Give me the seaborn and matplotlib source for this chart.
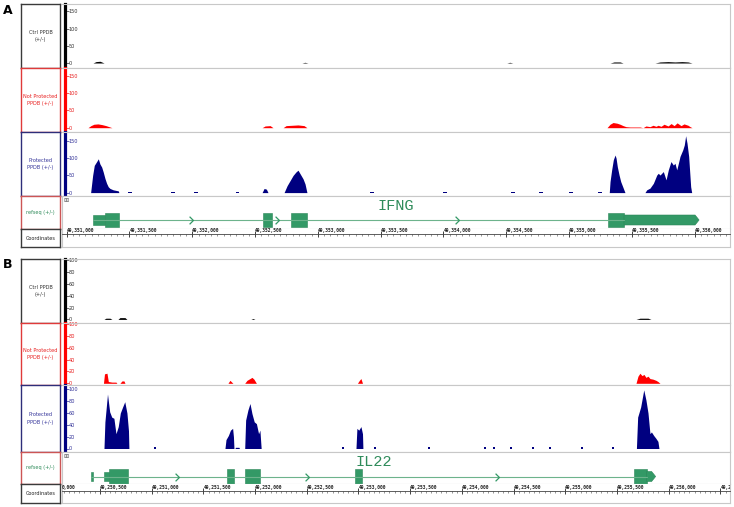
import matplotlib
matplotlib.use("Agg")
import matplotlib.pyplot as plt
from matplotlib.ticker import MultipleLocator, FuncFormatter
from matplotlib.patches import Rectangle, Polygon
from matplotlib.path import Path
import seaborn as sns

W, H = 734, 507

# ---------------- panel A : IFNG locus ----------------
a_xlim = (49350963, 49356281)
a_ticks = [0, 50, 100, 150]

a_ctrl_pos = [49351210, 49351234, 49351266, 49351298,
              49352873, 49352897, 49352921,
              49354504, 49354528, 49354552,
              49355326, 49355358, 49355406, 49355430,
              49355684, 49355724, 49355788, 49355843, 49355899, 49355947, 49355979]
a_ctrl_val = [0, 4, 5, 0, 0, 2, 0, 0, 2, 0, 0, 3, 3, 0, 0, 3, 4, 3, 4, 3, 0]

a_notp_pos = [49351170, 49351193, 49351217, 49351249, 49351281, 49351313, 49351345, 49351361,
              49352556, 49352580, 49352620, 49352643,
              49352723, 49352747, 49352795, 49352842, 49352890, 49352913,
              49355302, 49355326, 49355350, 49355382, 49355406, 49355430, 49355453, 49355485,
              49355564, 49355588,
              49355612, 49355644, 49355668, 49355692, 49355708, 49355732, 49355756, 49355788,
              49355812, 49355836, 49355860, 49355891, 49355915, 49355947, 49355963, 49355979]
a_notp_val = [0, 6, 10, 11, 9, 6, 2, 0,
              0, 5, 6, 0,
              0, 6, 7, 8, 6, 0,
              0, 10, 15, 13, 10, 6, 3, 2, 2, 0,
              5, 3, 7, 4, 7, 4, 10, 5, 12, 6, 14, 6, 11, 7, 3, 0]

a_prot_pos = [49351191, 49351207, 49351220, 49351239, 49351252, 49351265, 49351279, 49351291,
              49351305, 49351318, 49351331, 49351345, 49351371, 49351411, 49351416,
              49352556, 49352572, 49352590, 49352603,
              49352731, 49352755, 49352779, 49352803, 49352826, 49352842, 49352858, 49352882,
              49352898, 49352913,
              49355320, 49355326, 49355339, 49355352, 49355366, 49355374, 49355384, 49355398,
              49355411, 49355427, 49355445,
              49355604, 49355618, 49355644, 49355671, 49355698, 49355710, 49355724, 49355737,
              49355750, 49355772, 49355790, 49355811, 49355830, 49355843, 49355857, 49355870,
              49355883, 49355905, 49355917, 49355928, 49355939, 49355952, 49355968, 49355976]
a_prot_val = [0, 50, 79, 90, 98, 83, 74, 60, 41, 27, 17, 12, 8, 5, 0,
              0, 12, 10, 0,
              0, 20, 35, 50, 60, 65, 55, 40, 25, 0,
              0, 32, 66, 95, 109, 100, 75, 51, 32, 17, 0,
              0, 8, 13, 27, 51, 56, 51, 56, 61, 37, 66, 90, 80, 85, 66, 85,
              105, 124, 138, 165, 143, 105, 17, 0]
a_prot_dots = [49351504, 49351847, 49352030, 49352357, 49353431, 49354012,
               49354553, 49354776, 49355015, 49355246]
a_prot_dot_val = [3, 3, 2, 3, 2, 2, 3, 2, 3, 3]

a_gene = "IFNG"
a_utr5 = [(49351207, 49351305)]
a_cds = [(49351305, 49351416), (49352563, 49352634), (49352788, 49352913), (49355310, 49355437)]
a_utr3 = (49355437, 49356035)
a_chevrons = [49351987, 49352674, 49354105]

# ---------------- panel B : IL22 locus ----------------
b_xlim = (49250133, 49256593)
b_ticks = [0, 20, 40, 60, 80, 100]

b_ctrl_pos = [49250539, 49250558, 49250597, 49250616, 49250674, 49250693, 49250742, 49250761,
              49251960, 49251980, 49251999, 49255684, 49255722, 49255800, 49255829]
b_ctrl_val = [0, 2, 2, 0, 0, 3, 3, 0, 0, 1.5, 0, 0, 2, 2, 0]

b_notp_pos = [49250534, 49250544, 49250568, 49250581, 49250616, 49250655, 49250664,
              49250693, 49250713, 49250732, 49250742,
              49251738, 49251757, 49251786,
              49251900, 49251922, 49251951, 49251970, 49251989, 49252013,
              49252990, 49253009, 49253024, 49253039,
              49255684, 49255703, 49255722, 49255742, 49255761, 49255780, 49255800, 49255819,
              49255848, 49255877, 49255896, 49255916]
b_notp_val = [0, 16, 17, 3, 2, 2, 0,
              0, 4, 4, 0,
              0, 5, 0,
              0, 5, 8, 10, 7, 0,
              0, 5, 8, 0,
              0, 12, 17, 13, 15, 10, 12, 8, 7, 5, 3, 0]

b_prot_pos = [49250539, 49250548, 49250573, 49250594, 49250614, 49250635, 49250655, 49250677,
              49250697, 49250719, 49250740, 49250761, 49250776, 49250780,
              49251709, 49251719, 49251742, 49251762, 49251783, 49251791, 49251796,
              49251806, 49251810, 49251844, 49251849,
              49251900, 49251909, 49251931, 49251951, 49251970, 49251992, 49252013, 49252034,
              49252047, 49252059,
              49252976, 49252985, 49253003, 49253024, 49253039, 49253043,
              49255688, 49255700, 49255729, 49255759, 49255780, 49255800, 49255819, 49255833,
              49255855, 49255877, 49255896, 49255906]
b_prot_val = [0, 45, 92, 62, 53, 51, 25, 37, 60, 70, 79, 60, 30, 0,
              0, 15, 22, 31, 34, 20, 0, 0, 2, 2, 0,
              0, 48, 65, 76, 59, 45, 42, 25, 31, 0,
              0, 34, 31, 37, 25, 0,
              0, 53, 70, 99, 82, 60, 25, 28, 22, 17, 12, 0]
b_prot_dots = [49251032, 49252850, 49253159, 49253682, 49254223, 49254310, 49254475,
               49254688, 49254852, 49255162, 49255461]
b_prot_dot_val = [2, 2, 2, 2, 2, 2, 2, 2, 2, 2, 2]

b_gene = "IL22"
b_utr5 = [(49250413, 49250432), (49250542, 49250590)]
b_cds = [(49250590, 49250768), (49251731, 49251796), (49251902, 49252047),
         (49252966, 49253031), (49255667, 49255787)]
b_utr3 = (49255787, 49255874)
b_chevrons = [49251242, 49252499, 49254336]

track_names = ["Ctrl PPDB\n(+/-)", "Not Protected\nPPDB (+/-)", "Protected\nPPDB (+/-)",
               "refseq (+/-)", "Coordinates"]

# ---------------- styling ----------------
sns.set_theme(style="white")
plt.rcParams["font.family"] = ["DejaVu Sans"]

fill_cols = ["#000000", "#ff0000", "#000080"]
text_cols = ["#333333", "#e82020", "#333399", "#2e8b5a", "#222222"]
box_edges = ["#3a3a3a", "#e03a3a", "#2e2e7a", "#cc5555", "#3a3a3a"]
grid_gray = "#c8c8c8"
exon_green = "#339966"
intron_green = "#6db38c"
CHAR_PX = 2.73  # width of one coordinate-label character in pixels

fig = plt.figure(figsize=(W / 100, H / 100), dpi=100)


def px_box(x0, y0, x1, y1):
    return [x0 / W, 1 - y1 / H, (x1 - x0) / W, (y1 - y0) / H]


def label_box(y0, y1, i):
    ax = fig.add_axes(px_box(21, y0, 60, y1))
    ax.set_xticks([])
    ax.set_yticks([])
    for s in ax.spines.values():
        s.set_color(box_edges[i])
        s.set_linewidth(1.0)
    ax.text(0.5, 0.5, track_names[i], ha="center", va="center", fontsize=3.6,
            color=text_cols[i], transform=ax.transAxes, linespacing=1.6)


def gray_frame(ax, sides):
    for s in sides:
        ax.spines[s].set_color(grid_gray)
        ax.spines[s].set_linewidth(0.8)


def coverage_track(y0, y1, zero_px, per_px, pos, val, dots, dval, i, xlim, ticks):
    ax = fig.add_axes(px_box(62, y0, 730, y1))
    h = y1 - y0
    ax.set_xlim(xlim)
    ax.set_ylim(-zero_px * per_px, (h - zero_px) * per_px)
    ax.fill_between(pos, val, 0, color=fill_cols[i], linewidth=0)
    if dots:
        ax.bar(dots, dval, width=25, color=fill_cols[i], linewidth=0)
    ax.set_xticks([])
    ax.set_yticks(ticks)
    ax.spines["left"].set_position(("axes", 2.5 / 668))
    ax.spines["left"].set_color(fill_cols[i])
    ax.spines["left"].set_linewidth(2.3)
    gray_frame(ax, ["top", "bottom", "right"])
    ax.tick_params(axis="y", direction="in", length=2.6, width=0.5, color=text_cols[i],
                   pad=-3.0, labelsize=3.6, labelcolor=text_cols[i], left=True)
    for lab in ax.get_yticklabels():
        lab.set_horizontalalignment("left")
    return ax


def gene_track(y0, y1, center, xlim, utr5, cds, utr3, chevrons, name):
    ax = fig.add_axes(px_box(62, y0, 730, y1))
    h = y1 - y0
    ax.set_xlim(xlim)
    ax.set_ylim(0, h)
    ax.set_xticks([])
    ax.set_yticks([])
    gray_frame(ax, ["top", "bottom", "right", "left"])
    start = utr5[0][0]
    sns.lineplot(x=[start, utr3[0]], y=[center, center], ax=ax, color=intron_green,
                 linewidth=0.8)
    for s, e in utr5:
        ax.add_patch(Rectangle((s, center - 4.7), e - s, 9.4, facecolor=exon_green,
                               edgecolor="#2b8658", linewidth=0.4))
    for s, e in cds:
        ax.add_patch(Rectangle((s, center - 7.2), e - s, 14.4, facecolor=exon_green,
                               edgecolor="#2b8658", linewidth=0.4))
    tip = 4 * (xlim[1] - xlim[0]) / 668
    s3, e3 = utr3
    ax.add_patch(Polygon([(s3, center - 5), (e3 - tip, center - 5), (e3, center),
                          (e3 - tip, center + 5), (s3, center + 5)],
                         closed=True, facecolor=exon_green, edgecolor="#2b8658", linewidth=0.4))
    chev = Path([(-0.5, 1), (0.5, 0), (-0.5, -1)], [Path.MOVETO, Path.LINETO, Path.LINETO])
    ax.plot(chevrons, [center] * len(chevrons), marker=chev, linestyle="none",
            markersize=5.5, markerfacecolor="none", markeredgecolor=exon_green,
            markeredgewidth=0.9)
    ax.text((start + e3) / 2, h - 9.5, name, ha="center", va="center",
            family="Liberation Mono", fontsize=11, color="#2e8b5a")
    fig.text(66 / W, 1 - (y0 + 5) / H, "\u229e", ha="center", va="center",
             fontsize=4.5, color="#555555")
    return ax


def coord_track(y0, y1, line_px, xlim, hidden_label=None):
    ax = fig.add_axes(px_box(62, y0, 730, y1))
    h = y1 - y0
    line_y = h - line_px
    char_bp = CHAR_PX * (xlim[1] - xlim[0]) / 668
    ax.set_xlim(xlim)
    ax.set_ylim(0, h)
    ax.set_yticks([])
    gray_frame(ax, ["bottom", "right", "left"])
    ax.spines["top"].set_position(("data", line_y))
    ax.spines["top"].set_color("#444444")
    ax.spines["top"].set_linewidth(0.6)
    ax.xaxis.set_ticks_position("top")
    ax.xaxis.set_major_locator(MultipleLocator(500))
    ax.xaxis.set_minor_locator(MultipleLocator(50))

    # labels run off the panel edge on the right, as in the browser screenshot
    def fmt(v, p):
        s = f"{int(v):,}"
        return s[:max(0, round((xlim[1] - v) / char_bp))]

    ax.xaxis.set_major_formatter(FuncFormatter(fmt))
    ax.tick_params(axis="x", which="major", direction="inout", length=4, width=0.6,
                   pad=-1.6, labelsize=3.3, colors="#222222")
    ax.tick_params(axis="x", which="minor", direction="in", length=1.3, width=0.4,
                   colors="#444444")
    for lab in ax.get_xticklabels():
        lab.set_horizontalalignment("left")
        lab.set_family("DejaVu Sans Mono")
        lab.set_weight("bold")
    if hidden_label is not None:
        s = f"{hidden_label:,}"
        cut = round((xlim[0] - hidden_label) / char_bp)
        ax.text(xlim[0], line_y + 0.55, s[cut:], ha="left", va="bottom",
                fontsize=3.3, family="DejaVu Sans Mono", weight="bold", color="#222222")
    return ax


# ---------------- panel A ----------------
a_rows = [(4, 68), (68, 132), (132, 196), (196, 229), (229, 247)]
for i, (y0, y1) in enumerate(a_rows):
    label_box(y0, y1, i)
a_per_px = 150 / 51.7
coverage_track(*a_rows[0], 5.0, a_per_px, a_ctrl_pos, a_ctrl_val, [], [], 0, a_xlim, a_ticks)
coverage_track(*a_rows[1], 4.3, a_per_px, a_notp_pos, a_notp_val, [], [], 1, a_xlim, a_ticks)
coverage_track(*a_rows[2], 3.4, a_per_px, a_prot_pos, a_prot_val, a_prot_dots,
               a_prot_dot_val, 2, a_xlim, a_ticks)
gene_track(*a_rows[3], 9, a_xlim, a_utr5, a_cds, a_utr3, a_chevrons, a_gene)
coord_track(*a_rows[4], 4.7, a_xlim)

# ---------------- panel B ----------------
b_rows = [(259, 323), (323, 385), (385, 452), (452, 484), (484, 503)]
for i, (y0, y1) in enumerate(b_rows):
    label_box(y0, y1, i)
b_per_px = 100 / 59.2
coverage_track(*b_rows[0], 3.6, b_per_px, b_ctrl_pos, b_ctrl_val, [], [], 0, b_xlim, b_ticks)
coverage_track(*b_rows[1], 1.7, b_per_px, b_notp_pos, b_notp_val, [], [], 1, b_xlim, b_ticks)
coverage_track(*b_rows[2], 3.5, b_per_px, b_prot_pos, b_prot_val, b_prot_dots,
               b_prot_dot_val, 2, b_xlim, b_ticks)
gene_track(*b_rows[3], 7.5, b_xlim, b_utr5, b_cds, b_utr3, b_chevrons, b_gene)
coord_track(*b_rows[4], 7.0, b_xlim, hidden_label=49250000)

fig.text(8 / W, 1 - 10 / H, "A", ha="center", va="center", fontsize=9, weight="bold",
         color="black")
fig.text(8 / W, 1 - 265 / H, "B", ha="center", va="center", fontsize=9, weight="bold",
         color="black")

fig.savefig("out.png", dpi=100)
